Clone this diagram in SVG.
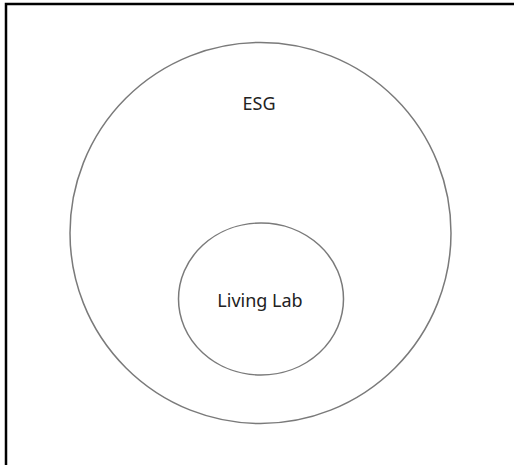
<svg xmlns="http://www.w3.org/2000/svg" width="514" height="465" viewBox="0 0 514 465">
<style>
.ring{fill:none;stroke:#7a7a7a;stroke-width:1.5}
.lbl{font-family:"Noto Sans","Liberation Sans",sans-serif;font-size:18px;fill:#222;text-anchor:middle}
</style>
<rect x="0" y="0" width="514" height="465" fill="#fff"/>
<path d="M6,465 V4 H514" fill="none" stroke="#000" stroke-width="2.5"/>
<g id="esg">
<circle class="ring" cx="260.5" cy="233" r="190.5"/>
<text class="lbl" x="259" y="110">ESG</text>
</g>
<g id="living-lab">
<ellipse class="ring" cx="261" cy="299" rx="82.5" ry="76"/>
<text class="lbl" x="260" y="307">Living Lab</text>
</g>
<g id="connectors"/>
</svg>
